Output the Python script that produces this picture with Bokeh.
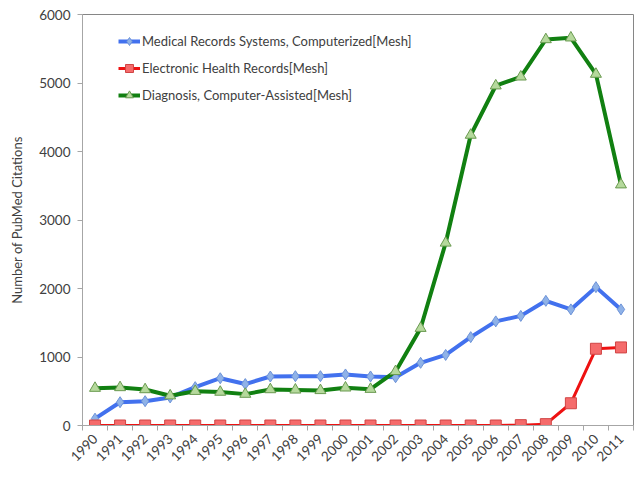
from bokeh.plotting import figure
from bokeh.models import Legend, LegendItem, FixedTicker, Range1d
from bokeh.embed import file_html
from bokeh.resources import INLINE
import math

years = list(range(1990, 2012))
medical_records = [100, 340, 355, 410, 560, 690, 605, 715, 720, 720, 745, 716, 705,
                   915, 1030, 1290, 1520, 1600, 1820, 1695, 2020, 1695]
ehr = [0, 0, 0, 0, 0, 0, 0, 0, 0, 0, 0, 0, 0,
       0, 0, 0, 0, 5, 20, 325, 1120, 1140]
diagnosis = [545, 555, 525, 435, 500, 488, 458, 525, 520, 512, 550, 530, 790,
             1420, 2665, 4240, 4960, 5090, 5635, 5660, 5130, 3515]
labels = ["Medical Records Systems, Computerized[Mesh]",
          "Electronic Health Records[Mesh]",
          "Diagnosis, Computer-Assisted[Mesh]"]

FONT = "Lato"
TXT = "#404040"
AX = "#a6a6a6"

p = figure(width=636, height=474, output_backend="svg", toolbar_location=None,
           x_range=Range1d(1989.5, 2011.5), y_range=Range1d(0, 6000),
           min_border_left=82, min_border_right=3, min_border_top=14, min_border_bottom=49)
p.xgrid.visible = False
p.ygrid.visible = False
p.outline_line_color = "#868686"
p.background_fill_color = "white"

# x axis
p.xaxis.ticker = FixedTicker(ticks=years, minor_ticks=[y - 0.5 for y in years] + [2011.5])
p.xaxis.major_tick_out = 0
p.xaxis.major_tick_in = 0
p.xaxis.minor_tick_out = 5
p.xaxis.minor_tick_in = 0
p.xaxis.minor_tick_line_color = AX
p.xaxis.axis_line_color = AX
p.xaxis.major_label_orientation = math.pi / 4
p.xaxis.major_label_text_font = FONT
p.xaxis.major_label_text_font_size = "13.5px"
p.xaxis.major_label_text_color = TXT
p.xaxis.major_label_standoff = 6

# y axis
p.yaxis.ticker = FixedTicker(ticks=[0, 1000, 2000, 3000, 4000, 5000, 6000])
p.yaxis.minor_tick_line_color = None
p.yaxis.major_tick_out = 5
p.yaxis.major_tick_in = 0
p.yaxis.major_tick_line_color = AX
p.yaxis.axis_line_color = AX
p.yaxis.major_label_text_font = FONT
p.yaxis.major_label_text_font_size = "13.5px"
p.yaxis.major_label_text_color = TXT
p.yaxis.major_label_standoff = 7
p.yaxis.axis_label = "Number of PubMed Citations"
p.yaxis.axis_label_text_font = FONT
p.yaxis.axis_label_text_font_size = "13px"
p.yaxis.axis_label_text_font_style = "normal"
p.yaxis.axis_label_text_color = TXT
p.yaxis.axis_label_standoff = 11

# series
l1 = p.line(years, medical_records, line_color="#4271ee", line_width=4)
s1 = p.scatter(years, medical_records, marker="diamond", size=11,
               fill_color="#8fb2e8", line_color="#6d93d8", line_width=1)
l2 = p.line(years, ehr, line_color="#ee1111", line_width=3)
s2 = p.scatter(years, ehr, marker="square", size=11,
               fill_color="#f56b6b", line_color="#d04545", line_width=1)
l3 = p.line(years, diagnosis, line_color="#118011", line_width=4)
s3 = p.scatter(years, diagnosis, marker="triangle", size=11,
               fill_color="#b5d99c", line_color="#6a9a50", line_width=1)

legend = Legend(items=[LegendItem(label=labels[0], renderers=[l1, s1]),
                       LegendItem(label=labels[1], renderers=[l2, s2]),
                       LegendItem(label=labels[2], renderers=[l3, s3])],
                location=(36, 318))
legend.border_line_color = None
legend.background_fill_alpha = 0
legend.label_text_font = FONT
legend.label_text_font_size = "13px"
legend.label_text_color = TXT
legend.glyph_width = 22
legend.glyph_height = 20
legend.label_height = 24
legend.spacing = 3
legend.label_standoff = 2
legend.padding = 10
legend.margin = 0
p.add_layout(legend, "center")

open("out.html", "w").write(file_html(p, INLINE))
